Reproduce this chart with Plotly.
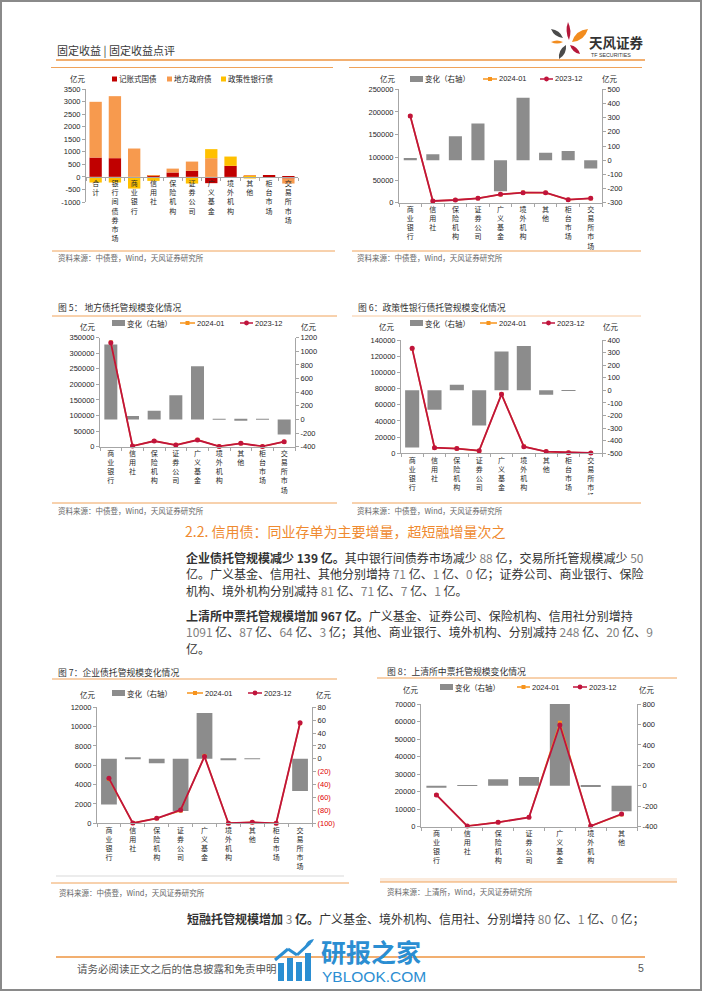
import plotly.graph_objects as go

W, H = 702, 991
def X(p): return p / W
def Y(p): return 1 - p / H

LAT = "Liberation Sans, Arial, Noto Sans CJK SC, sans-serif"
CJK = "Noto Sans CJK SC, Liberation Sans, sans-serif"
AX = "#A6A6A6"
TXT = "#262626"
GRAY_BAR = "#8C8C8C"
RED = "#C0143C"
ORG = "#F7941D"
OLINE = "#F0A35A"

# ---------------- data ----------------
c1_cats = ['合计', '银行间债券市场', '商业银行', '信用社', '保险机构', '证券公司', '广义基金',
           '境外机构', '其他', '柜台市场', '交易所市场']
c1_tbond = [770, 745, 0, 50, 175, 240, -250, 440, 25, 55, -65]
c1_local = [2220, 2470, 1130, 15, 155, 370, 745, 0, 25, 0, -200]
c1_policy = [-225, -225, -465, -160, 0, -265, 360, 370, -65, 0, 0]
c1_ticks = [-1000, -500, 0, 500, 1000, 1500, 2000, 2500, 3000, 3500]

c2_cats = ['商业银行', '信用社', '保险机构', '证券公司', '广义基金', '境外机构', '其他', '柜台市场', '交易所市场']
c2_change = [16, 42, 169, 259, -220, 440, 52, 64, -59]
c2_2401 = [191020, 3740, 6070, 9860, 18180, 22440, 22050, 6660, 9540]
c2_2312 = [191000, 3700, 5900, 9600, 18400, 22000, 22000, 6600, 9600]
c2_lticks = [0, 50000, 100000, 150000, 200000, 250000]
c2_rticks = [-300, -200, -100, 0, 100, 200, 300, 400, 500]

c5_cats = ['商业银行', '信用社', '保险机构', '证券公司', '广义基金', '境外机构', '其他', '柜台市场', '交易所市场']
c5_change = [1100, 49, 127, 357, 782, 8, -15, 4, -220]
c5_2401 = [335100, 2150, 18330, 5760, 22180, 1010, 10680, 1000, 15780]
c5_2312 = [334000, 2100, 18200, 5400, 21400, 1000, 10700, 1000, 16000]
c5_lticks = [0, 50000, 100000, 150000, 200000, 250000, 300000, 350000]
c5_rticks = [-400, -200, 0, 200, 400, 600, 800, 1000, 1200]

c6_cats = ['商业银行', '信用社', '保险机构', '证券公司', '广义基金', '境外机构', '其他', '柜台市场', '交易所市场']
c6_change = [-453, -155, 44, -279, 308, 353, -35, -4, 0]
c6_2401 = [129250, 6850, 5840, 3020, 73210, 8550, 2065, 800, 400]
c6_2312 = [129700, 7000, 5800, 3300, 72900, 8200, 2100, 800, 400]
c6_lticks = [0, 20000, 40000, 60000, 80000, 100000, 120000, 140000]
c6_rticks = [-500, -400, -300, -200, -100, 0, 100, 200, 300, 400]

c7_cats = ['商业银行', '信用社', '保险机构', '证券公司', '广义基金', '境外机构', '其他', '柜台市场', '交易所市场']
c7_change = [-71, 1, -7, -81, 71, -1, 0.4, 0, -50]
c7_2401 = [4580, 21, 513, 1298, 6971, 9, 100, 0, 10350]
c7_2312 = [4650, 20, 520, 1380, 6900, 10, 100, 0, 10400]
c7_lticks = [0, 2000, 4000, 6000, 8000, 10000, 12000]
c7_rticks = [-100, -80, -60, -40, -20, 0, 20, 40, 60, 80]

c8_cats = ['商业银行', '信用社', '保险机构', '证券公司', '广义基金', '境外机构', '其他']
c8_change = [-20, 3, 64, 87, 1091, -9, -248]
c8_2401 = [18080, 383, 2534, 5417, 59300, 371, 6982]
c8_2312 = [18100, 380, 2470, 5330, 58000, 380, 7230]
c8_lticks = [0, 10000, 20000, 30000, 40000, 50000, 60000, 70000]
c8_rticks = [-400, -200, 0, 200, 400, 600, 800]

# ---------------- helpers ----------------
fig = go.Figure()
shapes, annos = [], []
lay = {}

def add_text(x, y, s, size, color=TXT, xanchor='left', family=CJK):
    annos.append(dict(x=X(x), y=Y(y), xref='paper', yref='paper', text=s, showarrow=False,
                      xanchor=xanchor, yanchor='middle', borderpad=0,
                      font=dict(size=size, color=color, family=family)))

def hline(x0, x1, y, color, width=1):
    shapes.append(dict(type='line', xref='paper', yref='paper', x0=X(x0), x1=X(x1),
                       y0=Y(y), y1=Y(y), line=dict(color=color, width=width)))

def seg(x0, y0, x1, y1, color, width=1):
    shapes.append(dict(type='line', xref='paper', yref='paper', x0=X(x0), x1=X(x1),
                       y0=Y(y0), y1=Y(y1), line=dict(color=color, width=width)))

def rect(x0, y0, x1, y1, color, layer='above'):
    shapes.append(dict(type='rect', xref='paper', yref='paper', x0=X(x0), x1=X(x1),
                       y0=Y(y1), y1=Y(y0), fillcolor=color, line=dict(width=0), layer=layer))

def circ(cx, cy, r, color):
    shapes.append(dict(type='circle', xref='paper', yref='paper', x0=X(cx - r), x1=X(cx + r),
                       y0=Y(cy + r), y1=Y(cy - r), fillcolor=color, line=dict(width=0)))

def leaf(bx, by, tx, ty, w, color):
    mx, my = (bx + tx) / 2, (by + ty) / 2
    dx, dy = tx - bx, ty - by
    L = (dx * dx + dy * dy) ** 0.5
    nx, ny = -dy / L * w, dx / L * w
    pts = [(bx, by), (mx + nx, my + ny), (tx, ty), (mx - nx, my - ny)]
    P = [(X(a), Y(b)) for a, b in pts]
    path = (f"M{P[0][0]},{P[0][1]} Q{P[1][0]},{P[1][1]} {P[2][0]},{P[2][1]} "
            f"Q{P[3][0]},{P[3][1]} {P[0][0]},{P[0][1]} Z")
    shapes.append(dict(type='path', xref='paper', yref='paper', path=path,
                       fillcolor=color, line=dict(width=0)))

def leg_box(x0, y, color, label, w=13, h=6):
    rect(x0, y - h / 2, x0 + w, y + h / 2, color)
    add_text(x0 + w + 1, y, label, 7.5)

def leg_line(x0, x1, y, color, symbol, label):
    hline(x0, x1, y, color, 1.5)
    cx = (x0 + x1) / 2
    if symbol == 'square':
        rect(cx - 2, y - 2, cx + 2, y + 2, color)
    else:
        circ(cx, y, 2.4, color)
    add_text(x1 + 1, y, label, 7.5, family=LAT)

def stack(c):
    return '<br>'.join(list(c))

def xaxis_cfg(xdom, anchor, cats, position=None):
    d = dict(domain=[X(xdom[0]), X(xdom[1])], type='category',
             range=[-0.5, len(cats) - 0.5], tickmode='array', tickvals=cats,
             ticktext=[stack(c) for c in cats], tickangle=0,
             showline=True, linecolor=AX, linewidth=1, ticks='outside', tickson='boundaries',
             ticklen=3, tickcolor=AX, showgrid=False, zeroline=False, automargin=False,
             tickfont=dict(size=7, color=TXT, family=CJK), fixedrange=True)
    if position is None:
        d['anchor'] = anchor
    else:
        d['anchor'] = 'free'
        d['position'] = position
    return d

def yaxis_cfg(rng, ticks, side, anchor, ydom=None, overlaying=None, ticktext=None):
    d = dict(range=rng, tickmode='array', tickvals=ticks,
             ticktext=ticktext if ticktext else [str(t) for t in ticks],
             side=side, anchor=anchor, showline=True, linecolor=AX, linewidth=1,
             ticks='outside', ticklen=3, tickcolor=AX, showgrid=False, zeroline=False,
             automargin=False, tickfont=dict(size=7.5, color=TXT, family=LAT), fixedrange=True)
    if ydom is not None:
        d['domain'] = [Y(ydom[1]), Y(ydom[0])]
    if overlaying:
        d['overlaying'] = overlaying
    return d

def combo(cats, change, v2401, v2312, n_x, n_base, n_over, xdom, ydom, rrng, rticks,
          lrng, lticks, bw, rtext=None):
    xa = 'x' + str(n_x)
    yb = 'y' + str(n_base)
    yo = 'y' + str(n_over)
    fig.add_trace(go.Bar(x=cats, y=change, xaxis=xa, yaxis=yb, width=bw,
                         marker=dict(color=GRAY_BAR, line=dict(width=0)),
                         showlegend=False, hoverinfo='skip'))
    fig.add_trace(go.Scatter(x=cats, y=v2401, xaxis=xa, yaxis=yo, mode='lines+markers',
                             line=dict(color=ORG, width=1.5),
                             marker=dict(symbol='square', size=4, color=ORG),
                             cliponaxis=False, showlegend=False, hoverinfo='skip'))
    fig.add_trace(go.Scatter(x=cats, y=v2312, xaxis=xa, yaxis=yo, mode='lines+markers',
                             line=dict(color=RED, width=1.8),
                             marker=dict(symbol='circle', size=5, color=RED),
                             cliponaxis=False, showlegend=False, hoverinfo='skip'))
    lay['xaxis' + str(n_x)] = xaxis_cfg(xdom, yb, cats)
    lay['yaxis' + str(n_base)] = yaxis_cfg(rrng, rticks, 'right', xa, ydom=ydom, ticktext=rtext)
    lay['yaxis' + str(n_over)] = yaxis_cfg(lrng, lticks, 'left', xa, overlaying=yb)

# ---------------- page frame / header ----------------
shapes.append(dict(type='rect', xref='paper', yref='paper', x0=X(1), x1=X(701), y0=Y(990), y1=Y(1),
                   line=dict(color='#8A8A8A', width=2), fillcolor='rgba(0,0,0,0)'))
add_text(56, 50, '固定收益 | 固定收益点评', 11, '#3A3A3A')
hline(56, 645, 60, '#EE9440', 1.6)
hline(51, 333, 67.5, OLINE, 1)
hline(349, 642, 67.5, OLINE, 1)
# logo
leaf(563, 38, 551, 29, 4.5, '#4A4A4A')
leaf(569, 40, 568, 22, 3.8, '#B5173A')
leaf(572, 42, 588, 29, 7.0, '#F28C1E')
leaf(563, 42, 551, 42, 3.2, '#F28C1E')
leaf(566, 45, 559, 59, 5.0, '#4A4A4A')
leaf(570, 45, 580, 54, 4.2, '#B5173A')
add_text(588, 42, '<b>天风证券</b>', 13.5, '#333333')
add_text(590, 55, 'TF SECURITIES', 5.3, '#333333', family=LAT)

# ---------------- chart 1 ----------------
c1_x = (86, 298)
c1_y = (89, 202)
fig.add_trace(go.Bar(x=c1_cats, y=c1_tbond, name='记账式国债', marker=dict(color='#C00000', line=dict(width=0)),
                     width=0.64, xaxis='x', yaxis='y', showlegend=False, hoverinfo='skip'))
fig.add_trace(go.Bar(x=c1_cats, y=c1_local, name='地方政府债', marker=dict(color='#F79A4E', line=dict(width=0)),
                     width=0.64, xaxis='x', yaxis='y', showlegend=False, hoverinfo='skip'))
fig.add_trace(go.Bar(x=c1_cats, y=c1_policy, name='政策性银行债', marker=dict(color='#FFC000', line=dict(width=0)),
                     width=0.64, xaxis='x', yaxis='y', showlegend=False, hoverinfo='skip'))
zero_px = c1_y[0] + (c1_y[1] - c1_y[0]) * (3500 - 0) / 4500
lay['xaxis'] = xaxis_cfg(c1_x, 'y', c1_cats, position=Y(zero_px))
lay['yaxis'] = yaxis_cfg([-1000, 3500], c1_ticks, 'left', 'x', ydom=c1_y)
add_text(78, 78, '亿元', 7.5, xanchor='center')
leg_box(112, 79, '#C00000', '记账式国债', w=5, h=5)
leg_box(167, 79, '#F79A4E', '地方政府债', w=5, h=5)
leg_box(221, 79, '#FFC000', '政策性银行债', w=5, h=5)
hline(52, 335, 251, OLINE, 1)
add_text(57, 258, '资料来源：中债登，Wind，天风证券研究所', 7.5, '#666666')

# ---------------- chart 2 ----------------
combo(c2_cats, c2_change, c2_2401, c2_2312, 2, 2, 3, (399, 602), (89.3, 202.7),
      [-300, 500], c2_rticks, [0, 250000], c2_lticks, 0.58)
add_text(388, 79, '亿元', 7.5, xanchor='center')
add_text(610, 79, '亿元', 7.5, xanchor='center')
leg_box(410, 79, GRAY_BAR, '变化（右轴）')
leg_line(483, 497, 79, ORG, 'square', '2024-01')
leg_line(540, 553, 79, RED, 'circle', '2023-12')
hline(352, 641, 251, OLINE, 1)
add_text(356, 258, '资料来源：中债登，Wind，天风证券研究所', 7.5, '#666666')

# ---------------- chart 5 ----------------
add_text(57, 308, '图 5： 地方债托管规模变化情况', 8.8, '#333333')
hline(52, 337, 316, OLINE, 1)
combo(c5_cats, c5_change, c5_2401, c5_2312, 3, 4, 5, (100, 295), (337.7, 446.7),
      [-400, 1200], c5_rticks, [0, 350000], c5_lticks, 0.6)
add_text(88, 326, '亿元', 7.5, xanchor='center')
add_text(309, 326, '亿元', 7.5, xanchor='center')
leg_box(112, 323, GRAY_BAR, '变化（右轴）')
leg_line(180, 195, 323, ORG, 'square', '2024-01')
leg_line(240, 253, 323, RED, 'circle', '2023-12')
hline(52, 337, 503, OLINE, 1)
add_text(57, 510, '资料来源：中债登，Wind，天风证券研究所', 7.5, '#666666')

# ---------------- chart 6 ----------------
add_text(357, 308, '图 6：政策性银行债托管规模变化情况', 8.8, '#333333')
hline(352, 641, 316, '#F6C9A0', 1)
combo(c6_cats, c6_change, c6_2401, c6_2312, 4, 6, 7, (401, 602), (340, 453.3),
      [-500, 400], c6_rticks, [0, 140000], c6_lticks, 0.63)
add_text(387, 326, '亿元', 7.5, xanchor='center')
add_text(611, 326, '亿元', 7.5, xanchor='center')
leg_box(410, 323, GRAY_BAR, '变化（右轴）')
leg_line(480, 497, 323, ORG, 'square', '2024-01')
leg_line(542, 555, 323, RED, 'circle', '2023-12')
rect(395, 494.5, 640, 501, 'white')
hline(352, 641, 503, OLINE, 1)
add_text(356, 510, '资料来源：中债登，Wind，天风证券研究所', 7.5, '#666666')

# ---------------- text block ----------------
G = '<span style="color:#7F7F7F">'
E = '</span>'
add_text(184, 531, '2.2. 信用债：同业存单为主要增量，超短融增量次之', 14, '#EF8A2F')
body = [
    (557, f'<b>企业债托管规模减少 139 亿。</b>其中银行间债券市场减少 {G}88{E} 亿，交易所托管规模减少 {G}50{E}'),
    (573.5, f'亿。广义基金、信用社、其他分别增持 {G}71{E} 亿、{G}1{E} 亿、{G}0{E} 亿；证券公司、商业银行、保险'),
    (590, f'机构、境外机构分别减持 {G}81{E} 亿、{G}71{E} 亿、{G}7{E} 亿、{G}1{E} 亿。'),
    (615, f'<b>上清所中票托管规模增加 967 亿。</b>广义基金、证券公司、保险机构、信用社分别增持'),
    (631.5, f'{G}1091{E} 亿、{G}87{E} 亿、{G}64{E} 亿、{G}3{E} 亿；其他、商业银行、境外机构、分别减持 {G}248{E} 亿、{G}20{E} 亿、{G}9{E}'),
    (648, '亿。'),
]
for yy, s in body:
    add_text(185, yy, s, 12, '#333333')

# ---------------- chart 7 ----------------
add_text(57, 672, '图 7：企业债托管规模变化情况', 8.8, '#333333')
hline(52, 337, 679, OLINE, 1)
c7_rtext = [str(t) if t >= 0 else f'<span style="color:#E00000">({-t})</span>' for t in c7_rticks]
combo(c7_cats, c7_change, c7_2401, c7_2312, 5, 8, 9, (97, 312), (707.3, 823.3),
      [-100, 80], c7_rticks, [0, 12000], c7_lticks, 0.66, rtext=c7_rtext)
add_text(88, 694, '亿元', 7.5, xanchor='center')
add_text(324, 694, '亿元', 7.5, xanchor='center')
leg_box(112, 693, GRAY_BAR, '变化（右轴）')
leg_line(187, 203, 693, ORG, 'square', '2024-01')
leg_line(248, 262, 693, RED, 'circle', '2023-12')
hline(56, 344, 876, '#D9D9D9', 1)
hline(51, 349, 883, OLINE, 1)
add_text(58, 892, '资料来源：中债登，Wind，天风证券研究所', 7.5, '#666666')

# ---------------- chart 8 ----------------
add_text(386, 671, '图 8：上清所中票托管规模变化情况', 8.8, '#333333')
hline(377, 677, 678, OLINE, 1)
combo(c8_cats, c8_change, c8_2401, c8_2312, 6, 10, 11, (421, 637), (704, 826.7),
      [-400, 800], c8_rticks, [0, 70000], c8_lticks, 0.65)
add_text(411, 689, '亿元', 7.5, xanchor='center')
add_text(647, 689, '亿元', 7.5, xanchor='center')
leg_box(440, 687, GRAY_BAR, '变化（右轴）')
leg_line(517, 530, 687, ORG, 'square', '2024-01')
leg_line(573, 587, 687, RED, 'circle', '2023-12')
rect(380, 878, 677, 882, '#FBEBDD', layer='below')
hline(380, 677, 882, OLINE, 1)
add_text(386, 891, '资料来源：上清所，Wind，天风证券研究所', 7.5, '#666666')

# ---------------- bottom text & footer ----------------
add_text(186, 918, f'<b>短融托管规模增加</b> {G}3{E} <b>亿。</b>广义基金、境外机构、信用社、分别增持 {G}80{E} 亿、{G}1{E} 亿、{G}0{E} 亿；',
         12, '#333333')
hline(56, 645, 957, '#EE9440', 1.6)
add_text(76, 968, '请务必阅读正文之后的信息披露和免责申明', 10.5, '#555555')
add_text(641, 968, '5', 10.5, '#555555', xanchor='center', family=LAT)

# watermark
WM = '#2B8ED2'
rect(278, 963, 284, 981, WM)
rect(287, 958, 293, 981, WM)
rect(296, 962, 302, 981, WM)
rect(305, 953, 311, 981, WM)
seg(275, 960, 288, 949, WM, 3)
seg(288, 949, 297, 955, WM, 3)
seg(297, 955, 310, 943, WM, 3)
leaf(305, 946, 314, 939, 3.5, WM)
add_text(320, 951, '<b>研报之家</b>', 25, WM)
add_text(321, 976, 'YBLOOK.COM', 15.5, WM, family=LAT)

lay.update(dict(
    template='none', width=W, height=H, margin=dict(l=0, r=0, t=0, b=0),
    paper_bgcolor='white', plot_bgcolor='rgba(0,0,0,0)', barmode='relative',
    showlegend=False, shapes=shapes, annotations=annos,
    font=dict(family=CJK, color=TXT),
))
fig.update_layout(**lay)

fig.write_html("out.html", config={'displayModeBar': False},
               post_script="document.body.style.margin='0';document.body.style.overflow='hidden';")
